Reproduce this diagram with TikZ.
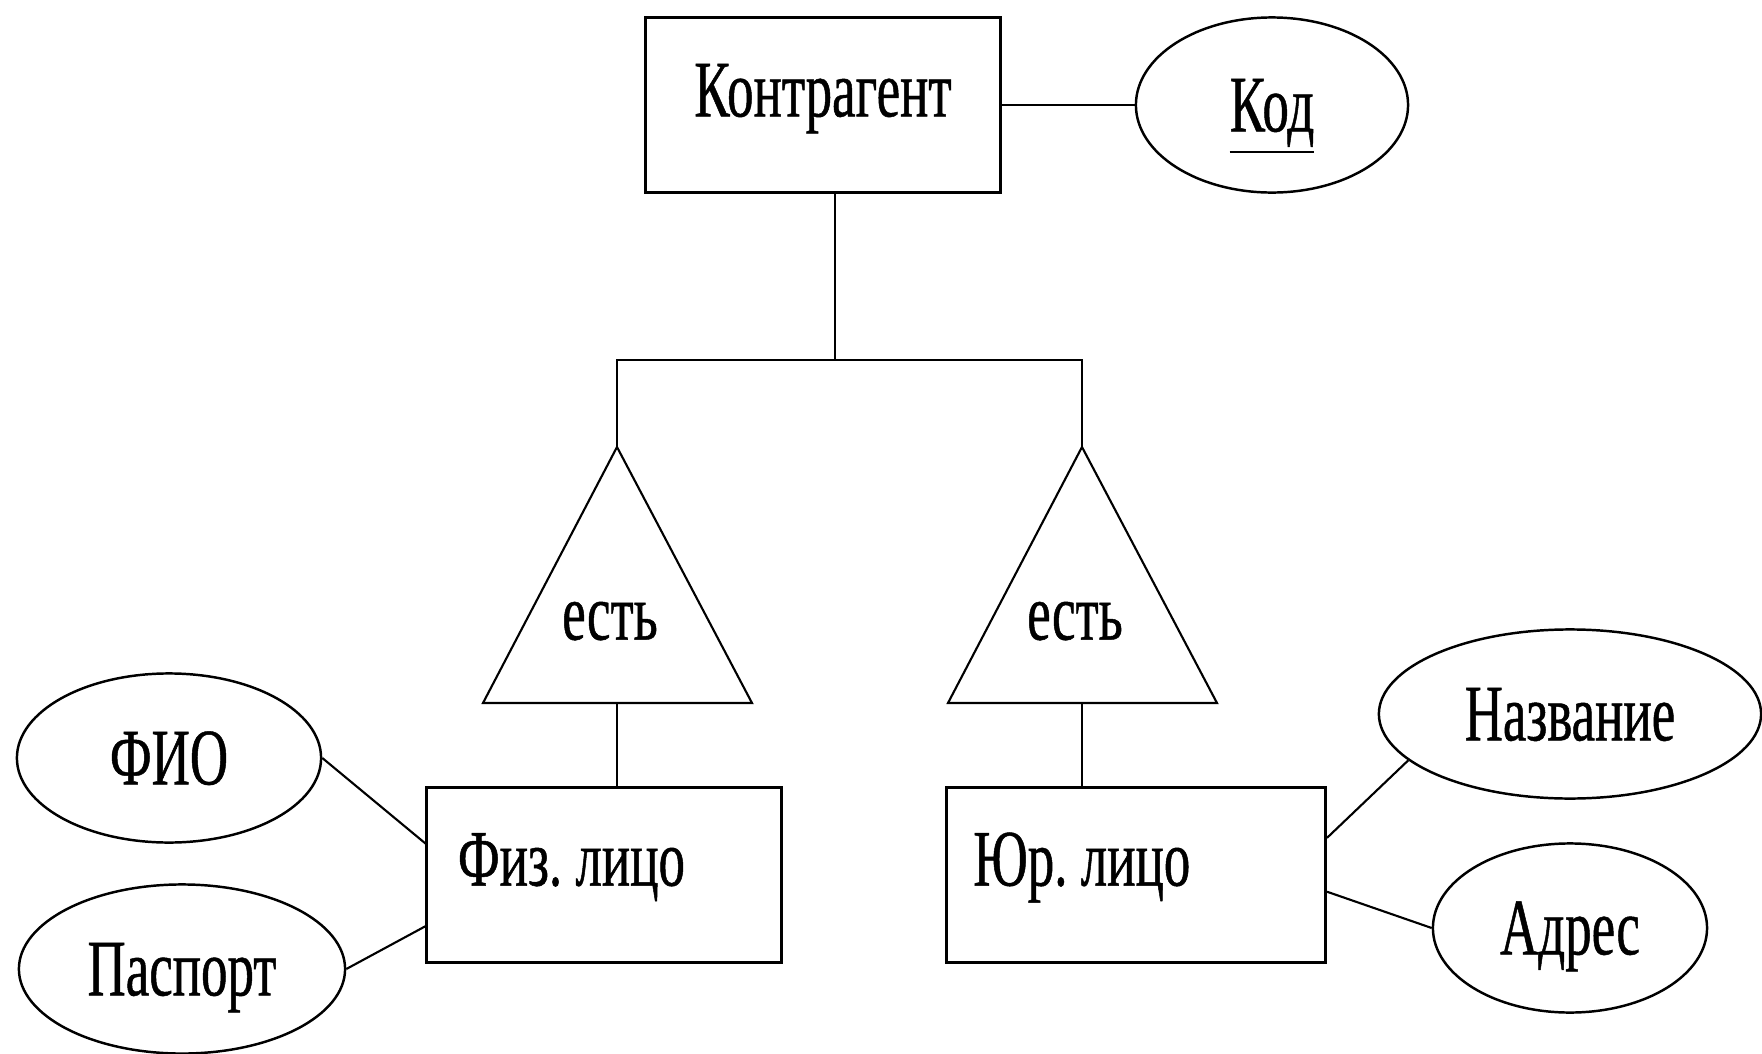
\documentclass[tikz,border=0pt]{standalone}
\usepackage{fontspec}
\setmainfont{Liberation Serif}[FakeStretch=0.66, FakeBold=0.6]
\usetikzlibrary{shapes.geometric}
\frenchspacing
\begin{document}
\begin{tikzpicture}[x=0.01cm, y=-0.01cm,
  font=\fontsize{22.8pt}{27pt}\selectfont,
  entity/.style={draw, rectangle, line width=0.8pt, inner ysep=0pt, minimum height=1.75cm, text height=15pt, text depth=9pt},
  attrib/.style={draw, ellipse, line width=0.7pt, inner sep=0pt, minimum height=1.69cm, text height=15pt, text depth=0pt},
  link/.style={line width=0.6pt}]
\useasboundingbox (0,0) rectangle (1762,1054);
\node[entity, minimum width=3.54cm, text depth=8.5pt] (kontr) at (823,105){Контрагент};
\node[attrib, minimum width=2.72cm, minimum height=1.75cm] (kod) at (1272,105){\underline{Код}};
\draw[link] (kontr.east) -- (kod.west);
\coordinate (fork) at (835,360);
\coordinate (isaL) at (617,447);
\coordinate (isaR) at (1082,447);
\coordinate (isaLb) at (617,703);
\coordinate (isaRb) at (1082,703);
\draw[link] (kontr.south -| fork) -- (fork);
\draw[link] (isaL) -- (isaL |- fork) -- (isaR |- fork) -- (isaR);
\draw[link] (isaL) -- (483,703) -- (752,703) -- cycle;
\draw[link] (isaR) -- (948,703) -- (1217,703) -- cycle;
\node[text height=10pt, text depth=0pt] (estL) at (610,622){есть};
\node[text height=10pt, text depth=0pt] (estR) at (1075,622){есть};
\node[entity, inner xsep=0.31cm, text width=2.92cm, align=left] (fiz) at (604,875){Физ.\,лицо};
\node[entity, inner xsep=0.27cm, text width=3.25cm, align=left] (yur) at (1136,875){Юр.\,лицо};
\draw[link] (isaLb) -- (fiz.north -| isaLb);
\draw[link] (isaRb) -- (yur.north -| isaRb);
\node[attrib, minimum width=3.04cm] (fio) at (169,758){ФИО};
\node[attrib, minimum width=3.26cm] (pasp) at (182,969){Паспорт};
\node[attrib, minimum width=3.82cm] (nazv) at (1570,714){Название};
\node[attrib, minimum width=2.74cm] (adr) at (1570,928){Адрес};
\draw[link] (fio.east) -- (fiz.170);
\draw[link] (pasp.east) -- (fiz.196);
\draw[link] (nazv.196) -- (yur.11);
\draw[link] (adr.west) -- (yur.355);
\end{tikzpicture}
\end{document}
